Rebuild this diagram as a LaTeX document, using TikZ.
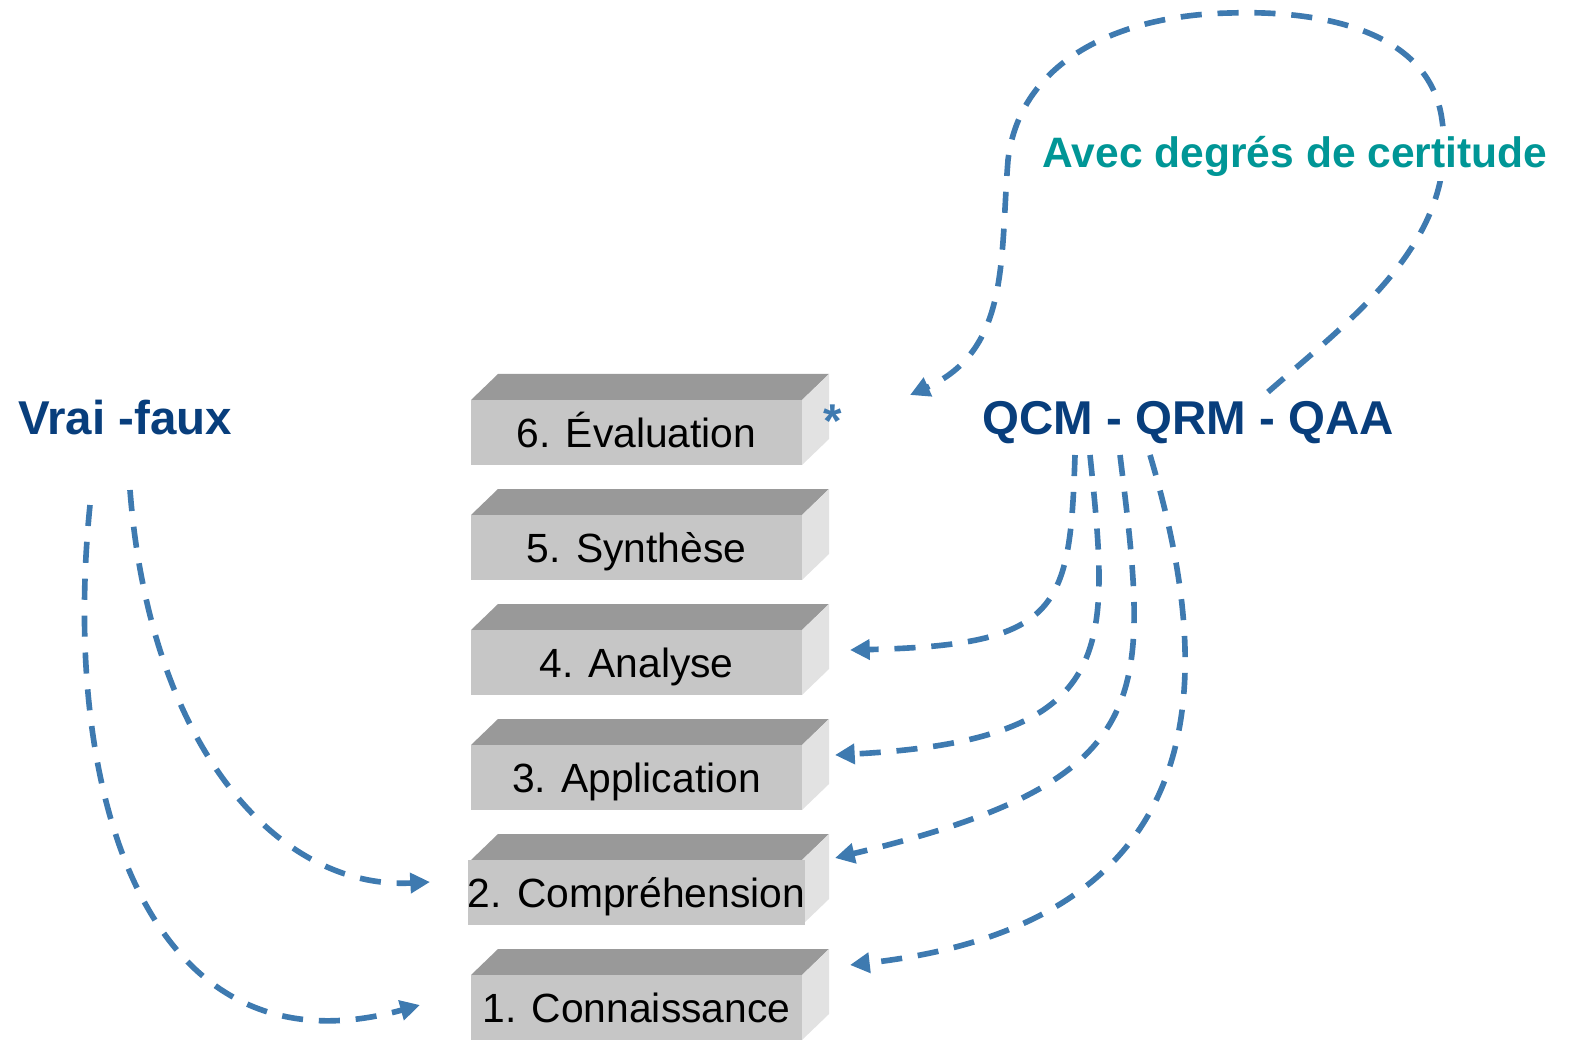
\documentclass[tikz,border=0pt]{standalone}
\usepackage{fontspec}
\setmainfont{Liberation Sans}
\usepackage{tikz}
\usetikzlibrary{arrows.meta}
\definecolor{mblue}{RGB}{62,122,176}
\definecolor{mnavy}{RGB}{8,62,124}
\definecolor{mteal}{RGB}{0,150,150}
\definecolor{mtopgray}{RGB}{153,153,153}
\definecolor{mfrontgray}{RGB}{198,198,198}
\definecolor{msidegray}{RGB}{226,226,226}
\tikzset{mtop/.style={fill=mtopgray}}
\tikzset{mside/.style={fill=msidegray}}
\tikzset{mface/.style={fill=mfrontgray,minimum width=3.31cm,minimum height=0.65cm,inner sep=0pt,
  text height=0.9em,text depth=0.05em,font=\fontsize{11.6}{14}\selectfont}}
\tikzset{mlabel/.style={font=\fontsize{13.5}{16}\selectfont\bfseries,text=mnavy,anchor=base}}
\tikzset{marrow/.style={draw=mblue,line width=1.6pt,dash pattern=on 6pt off 4.5pt,
  -{Triangle[length=5.6pt,width=5.6pt]}}}
% one step of the pile: #1 = top of front face, #2 = name, #3 = text
\newcommand{\mstep}[3]{%
  \fill[mtop] (471,#1) -- (498,#1-26) -- (829,#1-26) -- (802,#1) -- cycle;
  \fill[mside] (802,#1) -- (829,#1-26) -- (829,#1+39) -- (802,#1+65) -- cycle;
  \node[mface] (#2) at (636.5,#1+32.5) {#3};}

\begin{document}
\begin{tikzpicture}[x=0.01cm,y=-0.01cm]
\useasboundingbox (0,0) rectangle (1570,1040);

\mstep{400}{b6}{6. Évaluation}
\mstep{515}{b5}{5. Synthèse}
\mstep{630}{b4}{4. Analyse}
\mstep{745}{b3}{3. Application}
\mstep{860}{b2}{2. Compréhension}
\mstep{975}{b1}{1. Connaissance}

\node[mlabel] (vf) at (125,435) {Vrai -faux};
\node[mlabel] (qcm) at (1188,435) {QCM - QRM - QAA};
\node[mlabel,text=mblue] (star) at (833,438) {*};

% free ends of the arrows
\coordinate (v2) at (130,490);
\coordinate (v1) at (90,505);
\coordinate (q4) at (1075,455);
\coordinate (q3) at (1090,455);
\coordinate (q2) at (1120,455);
\coordinate (q1) at (1150,455);
\coordinate (e4) at (850,650);
\coordinate (e3) at (835,755);
\coordinate (e2) at (835,858);
\coordinate (e1) at (850,965);
\coordinate (ve2) at (430,882);
\coordinate (ve1) at (420,1005);
\coordinate (l0) at (1268,392);
\coordinate (e6) at (910,395);

\draw[marrow] (v2) .. controls (150,750) and (280,890) .. (ve2);
\draw[marrow] (v1) .. controls (60,800) and (150,1080) .. (ve1);

\draw[marrow] (q4) .. controls (1070,610) and (1060,645) .. (e4);
\draw[marrow] (q3) .. controls (1110,650) and (1120,740) .. (e3);
\draw[marrow] (q2) .. controls (1150,700) and (1160,780) .. (e2);
\draw[marrow] (q1) .. controls (1205,640) and (1245,920) .. (e1);

\draw[marrow] (l0) .. controls (1350,320) and (1460,240) .. (1442,120)
  .. controls (1430,30) and (1320,10) .. (1230,13)
  .. controls (1120,15) and (1020,60) .. (1008,160)
  .. controls (1000,260) and (1010,350) .. (e6);

\node[mlabel,text=mteal,fill=white,inner sep=1pt,font=\fontsize{12.1}{15}\selectfont\bfseries] (cert) at (1295,168) {Avec degrés de certitude};

\end{tikzpicture}
\end{document}
